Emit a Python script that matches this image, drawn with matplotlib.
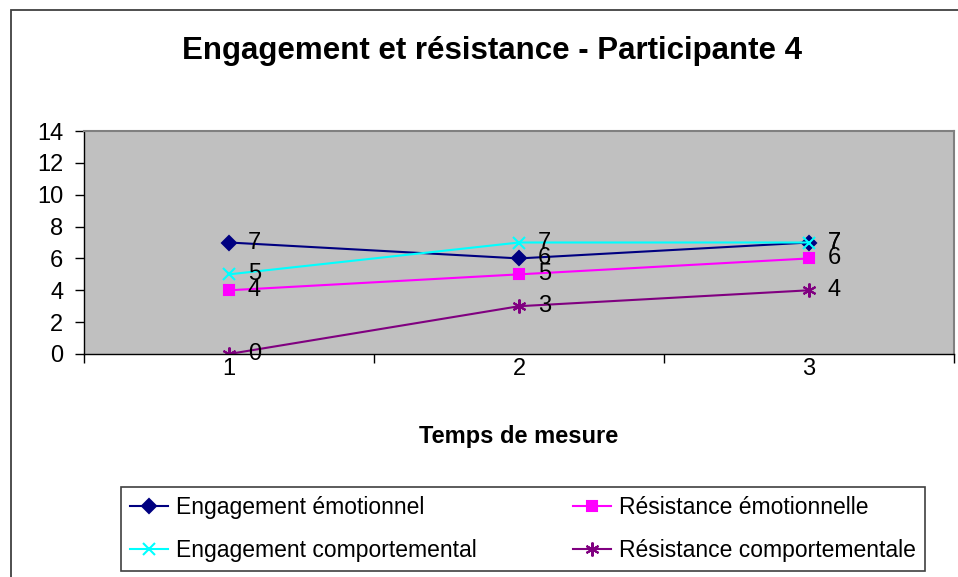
import matplotlib
matplotlib.use('Agg')
import matplotlib.pyplot as plt
from matplotlib.patches import Rectangle

plt.rcParams['font.family'] = ['Liberation Sans', 'DejaVu Sans']

# data
temps = [1, 2, 3]
engagement_emo = [7, 6, 7]
resistance_emo = [4, 5, 6]
engagement_comp = [5, 7, 7]
resistance_comp = [0, 3, 4]
yticks = [0, 2, 4, 6, 8, 10, 12, 14]

W, H = 958, 577
fig = plt.figure(figsize=(W / 100, H / 100), dpi=100)

# outer chart border
fig.patches.append(Rectangle((11 / W, -0.1), 1.2, 1 - 10 / H + 0.1, transform=fig.transFigure,
                             fill=False, edgecolor='#404040', linewidth=1.3))

ax = fig.add_axes([84 / W, 1 - 354 / H, 870 / W, 223 / H])
ax.set_facecolor('#C0C0C0')

series = [
    (engagement_emo, 'Engagement émotionnel', '#000080', 'D', 7),
    (resistance_emo, 'Résistance émotionnelle', '#FF00FF', 's', 7),
    (engagement_comp, 'Engagement comportemental', '#00FFFF', 'x', 9),
    (resistance_comp, 'Résistance comportementale', '#800080', (6, 2, 0), 10),
]
handles = {}
for vals, name, col, mk, ms in series:
    ln, = ax.plot(temps, vals, color=col, marker=mk, markersize=ms, linewidth=1.5,
                  markeredgewidth=1.5, label=name)
    handles[name] = ln
    for x, v in zip(temps, vals):
        ax.annotate(str(v), (x, v), xytext=(13.5, 0), textcoords='offset points',
                    ha='left', va='center', fontsize=17, color='black')

ax.set_xlim(0.5, 3.5)
ax.set_ylim(0, 14)
ax.set_yticks(yticks)
ax.set_xticks(temps)
ax.set_xticks([0.5, 1.5, 2.5, 3.5], minor=True)
ax.tick_params(axis='y', direction='out', length=6.5, width=1, labelsize=17, pad=8.5)
ax.tick_params(axis='x', which='major', length=0, labelsize=17, pad=3)
ax.tick_params(axis='x', which='minor', direction='out', length=6.5, width=1)

for s in ['top', 'right']:
    ax.spines[s].set_color('#808080')
    ax.spines[s].set_linewidth(1.5)
for s in ['left', 'bottom']:
    ax.spines[s].set_color('black')
    ax.spines[s].set_linewidth(1)

fig.text(491.5 / W, 1 - 51 / H, 'Engagement et résistance - Participante 4',
         ha='center', va='center', fontsize=22.5, fontweight='bold')
fig.text(519 / W, 1 - 436 / H, 'Temps de mesure', ha='center', va='center',
         fontsize=17, fontweight='bold')

order = ['Engagement émotionnel', 'Engagement comportemental',
         'Résistance émotionnelle', 'Résistance comportementale']
leg = fig.legend([handles[n] for n in order], order, ncol=2, loc='upper left',
                 bbox_to_anchor=(121 / W, 1 - 487 / H), fontsize=16.5, frameon=True,
                 fancybox=False, edgecolor='#404040', framealpha=1,
                 handlelength=1.66, handletextpad=0.35, columnspacing=4.2,
                 borderpad=0.4, labelspacing=0.85, borderaxespad=0)
leg.get_frame().set_linewidth(1.2)

fig.savefig('out.png', dpi=100)
